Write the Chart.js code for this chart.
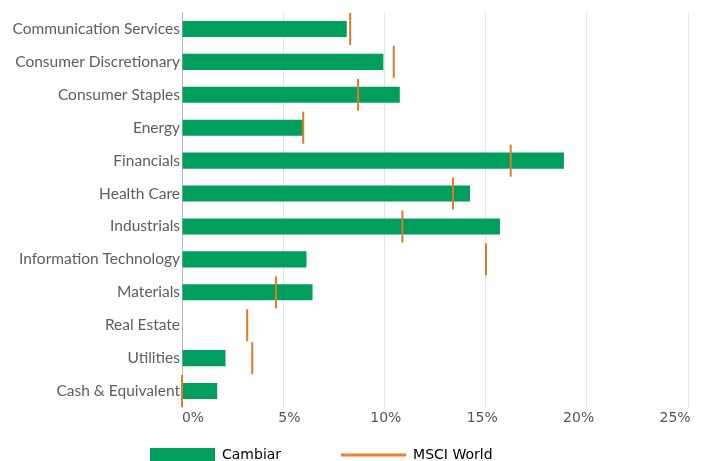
<!DOCTYPE html>
<html>
<head>
<meta charset="utf-8">
<script src="https://cdn.jsdelivr.net/npm/chart.js@4/dist/chart.umd.min.js"></script>
<style>
  html, body { margin: 0; padding: 0; background: #ffffff; overflow: hidden; }
  #wrap { position: relative; width: 707px; height: 461px; }
</style>
</head>
<body>
<div id="wrap"><canvas id="c" width="707" height="461"></canvas></div>
<script>
const categories = [
  "Communication Services", "Consumer Discretionary", "Consumer Staples", "Energy",
  "Financials", "Health Care", "Industrials", "Information Technology",
  "Materials", "Real Estate", "Utilities", "Cash & Equivalent"
];
const cambiar   = [8.14, 9.95, 10.76, 5.97, 18.87, 14.23, 15.71, 6.15, 6.45, 0, 2.15, 1.74];
const msciWorld = [8.31, 10.46, 8.70, 5.99, 16.24, 13.39, 10.89, 15.02, 4.64, 3.22, 3.47, 0];
const xTicks = [0, 5, 10, 15, 20, 25];
const seriesNames = ["Cambiar", "MSCI World"];

const GREEN = "#009F5D";
const ORANGE = "#E2782A";
const LEGEND_PAD = 60;

const legendPlacer = {
  id: "legendPlacer",
  afterLayout(chart) {
    const lg = chart.legend;
    if (!lg) return;
    lg.left = 150 - LEGEND_PAD;
    lg.top = 448 - LEGEND_PAD;
  }
};

new Chart(document.getElementById("c"), {
  data: {
    labels: categories,
    datasets: [
      {
        type: "bar",
        label: seriesNames[0],
        data: cambiar,
        backgroundColor: GREEN,
        borderWidth: 0,
        barPercentage: 0.49,
        categoryPercentage: 1.0,
        order: 2
      },
      {
        type: "line",
        label: seriesNames[1],
        data: msciWorld,
        indexAxis: "y",
        showLine: false,
        pointStyle: "line",
        pointRotation: 90,
        pointRadius: 16,
        pointHoverRadius: 16,
        borderColor: ORANGE,
        backgroundColor: ORANGE,
        pointBorderWidth: 2,
        borderWidth: 2,
        clip: false,
        order: 1
      }
    ]
  },
  options: {
    indexAxis: "y",
    responsive: false,
    animation: false,
    events: [],
    layout: { autoPadding: false, padding: { top: 12.5, right: 19, bottom: 0, left: 0 } },
    scales: {
      x: {
        type: "linear",
        position: "bottom",
        min: 0,
        max: 25,
        afterBuildTicks(scale) { scale.ticks = xTicks.map(v => ({ value: v })); },
        afterFit(scale) { scale.height = 0; scale.paddingLeft = 0; scale.paddingRight = 0; },
        grid: {
          color: ctx => (ctx.tick && ctx.tick.value === 0) ? "rgba(0,0,0,0)" : "#e3e3e3",
          lineWidth: 1,
          drawTicks: false
        },
        border: { display: false },
        ticks: { display: false }
      },
      xLabels: {
        type: "linear",
        position: "bottom",
        axis: "x",
        min: -0.57,
        max: 25.67,
        afterBuildTicks(scale) { scale.ticks = xTicks.map(v => ({ value: v })); },
        afterFit(scale) { scale.height = 20; scale.paddingLeft = 0; scale.paddingRight = 0; },
        grid: { display: false, drawTicks: false },
        border: { display: false },
        ticks: {
          padding: 2,
          color: "#555555",
          font: { family: "DejaVu Sans", size: 14 },
          callback: v => v + "%"
        }
      },
      y: {
        type: "category",
        afterFit(scale) { scale.width = 182; scale.paddingTop = 0; scale.paddingBottom = 0; },
        grid: { display: false, drawTicks: false },
        border: { display: true, color: "#b8b8b8", dash: [3, 3], width: 1 },
        ticks: {
          padding: 2,
          color: "#5b5e61",
          font: { family: "Lato", size: 15.5 }
        }
      }
    },
    plugins: {
      tooltip: { enabled: false },
      legend: {
        display: true,
        position: "bottom",
        align: "start",
        maxHeight: 33.5,
        labels: {
          usePointStyle: true,
          pointStyleWidth: 65,
          padding: LEGEND_PAD,
          color: "#2f3a44",
          font: { family: "DejaVu Sans", size: 14 },
          generateLabels(chart) {
            return chart.data.datasets.map((ds, i) => ({
              text: ds.label,
              fillStyle: i === 0 ? GREEN : ORANGE,
              strokeStyle: i === 0 ? GREEN : "#F07C2E",
              lineWidth: i === 0 ? 0 : 3,
              pointStyle: i === 0 ? "rect" : "line",
              rotation: 0,
              hidden: false,
              datasetIndex: i
            }));
          }
        }
      }
    }
  },
  plugins: [legendPlacer]
});
</script>
</body>
</html>
